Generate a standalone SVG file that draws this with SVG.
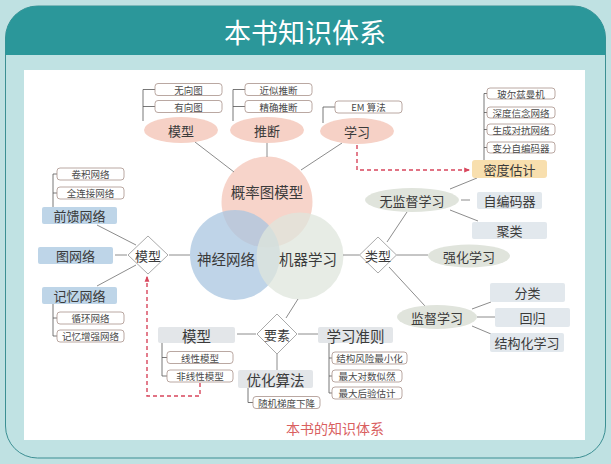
<svg xmlns="http://www.w3.org/2000/svg" width="611" height="464" viewBox="0 0 611 464">
<defs>
<style>
text{font-family:"Noto Sans CJK SC","Noto Sans",sans-serif;fill:#3a3a3a;text-anchor:middle;dominant-baseline:central}
.sb{fill:#fff;stroke:#a8928a;stroke-width:0.8}
.st{font-size:9.5px;fill:#4a4a4a}
.ln{stroke:#6f6f6f;stroke-width:0.8;fill:none}
.br{stroke:#555;stroke-width:0.8;fill:none}
.pk{fill:#f6d1c6}
.gg{fill:#e0e4dc}
.bl{fill:#bed5e8}
.gy{fill:#e3e6e9}
.gb{fill:#e2e8ed}
.dm{fill:#fff;stroke:#a0a0a0;stroke-width:0.9}
.m{font-size:13px}
.l{font-size:14.5px}
.rd{stroke:#d8465c;stroke-width:1.4;stroke-dasharray:4 3;fill:none}
</style>
<marker id="ar" viewBox="0 0 10 10" refX="8" refY="5" markerWidth="6" markerHeight="6" orient="auto" markerUnits="userSpaceOnUse">
<path d="M0,1 L10,5 L0,9 Z" fill="#d8465c"/>
</marker>
</defs>
<rect x="0" y="0" width="611" height="464" fill="#bfe1e2"/>
<rect x="5.5" y="6" width="600" height="452" rx="32" fill="#c0e2e3" stroke="#3c8f93" stroke-width="1"/>
<path d="M5.5,55 V38 A32,32 0 0 1 37.5,6 H573.5 A32,32 0 0 1 605.5,38 V55 Z" fill="#2b979a"/>
<text x="305" y="31" style="font-size:27px;fill:#fff">本书知识体系</text>
<rect x="24" y="70" width="561" height="370" fill="#fff"/>

<g id="venn">
<circle id="c-pgm" cx="267" cy="202" r="45.5" fill="#f3c2b4" fill-opacity="0.7"/>
<circle id="c-nn" cx="235" cy="255" r="45" fill="#a9c5e0" fill-opacity="0.75"/>
<circle id="c-ml" cx="300" cy="256" r="43.5" fill="#dfe5dc" fill-opacity="0.75"/>
<text x="267" y="191" class="l">概率图模型</text>
<text x="226" y="258" class="l">神经网络</text>
<text x="308" y="258" class="l">机器学习</text>
</g>

<g id="connectors">
<path class="ln" d="M195,142 L234,172"/>
<path class="ln" d="M267,143 L267,157"/>
<path class="ln" d="M342,143 L301,170"/>
<path class="br" d="M143,121 V89.5 H155 M143,106.5 H155"/>
<path class="br" d="M233,121 V89.5 H245 M233,106.5 H245"/>
<path class="br" d="M323,123 V107 H335"/>
<path class="br" d="M484,160 V93.5 H487 M484,112.5 H487 M484,129.5 H487 M484,147.5 H487"/>
<path class="ln" d="M450,189 L477,178"/>
<path class="ln" d="M461,200 L470,200"/>
<path class="ln" d="M450,210 L478,221"/>
<path class="ln" d="M343,255 L359.5,255"/>
<path class="ln" d="M387,242 L407,212"/>
<path class="ln" d="M396.5,255 L428,255"/>
<path class="ln" d="M389,267 L425,306"/>
<path class="ln" d="M472,309 L491,302"/>
<path class="ln" d="M477,317 L495,317"/>
<path class="ln" d="M472,326 L491,334"/>
<path class="br" d="M53,207 V174 H57 M53,193 H57"/>
<path class="br" d="M53,303 V336 H57 M53,318 H57"/>
<path class="ln" d="M97,225 L136,245"/>
<path class="ln" d="M115,255 L127,255"/>
<path class="ln" d="M169,255 L190,255"/>
<path class="ln" d="M97,286 L136,265"/>
<path class="br" d="M162,343 V376 H167 M162,357.5 H167"/>
<path class="ln" d="M237,334 L256,334"/>
<path class="ln" d="M286,318 L298,299"/>
<path class="ln" d="M298,334 L318,334"/>
<path class="ln" d="M277,354 L277,370"/>
<path class="br" d="M248,388 V402.5 H253"/>
<path class="br" d="M329,343 V393 H332 M329,358 H332 M329,376 H332"/>
<path class="rd" d="M357,145 V170 H469" marker-end="url(#ar)"/>
<path class="rd" d="M200,383 V396 H147 V277" marker-end="url(#ar)"/>
</g>

<g id="n-wuxiangtu"><rect class="sb" x="155" y="83.5" width="67" height="12" rx="3"/><text class="st" x="188.5" y="89.5">无向图</text></g>
<g id="n-youxiangtu"><rect class="sb" x="155" y="100.5" width="67" height="12" rx="3"/><text class="st" x="188.5" y="106.5">有向图</text></g>
<g id="n-moxing-top"><ellipse class="pk" cx="181" cy="130" rx="37" ry="13"/><text class="m" x="181" y="130">模型</text></g>
<g id="n-jinsi"><rect class="sb" x="245" y="83.5" width="67" height="12" rx="3"/><text class="st" x="278.5" y="89.5">近似推断</text></g>
<g id="n-jingque"><rect class="sb" x="245" y="100.5" width="67" height="12" rx="3"/><text class="st" x="278.5" y="106.5">精确推断</text></g>
<g id="n-tuiduan"><ellipse class="pk" cx="267" cy="130" rx="37" ry="13"/><text class="m" x="267" y="130">推断</text></g>
<g id="n-em"><rect class="sb" x="335" y="101" width="67" height="12" rx="3"/><text class="st" x="368.5" y="107">EM 算法</text></g>
<g id="n-xuexi"><ellipse class="pk" cx="357" cy="131" rx="37" ry="13"/><text class="m" x="357" y="131">学习</text></g>

<g id="n-boltz"><rect class="sb" x="487" y="88" width="68" height="11" rx="3"/><text class="st" x="521" y="93.5">玻尔兹曼机</text></g>
<g id="n-dbn"><rect class="sb" x="487" y="107" width="68" height="11" rx="3"/><text class="st" x="521" y="112.5">深度信念网络</text></g>
<g id="n-gan"><rect class="sb" x="487" y="124" width="68" height="11" rx="3"/><text class="st" x="521" y="129.5">生成对抗网络</text></g>
<g id="n-vae"><rect class="sb" x="487" y="142" width="68" height="11" rx="3"/><text class="st" x="521" y="147.5">变分自编码器</text></g>
<g id="n-midu"><rect x="472" y="160" width="75" height="18" rx="3" fill="#f8dfae"/><text class="m" x="509.5" y="169">密度估计</text></g>

<g id="n-wujiandu"><ellipse class="gg" cx="412" cy="200" rx="47" ry="12"/><text class="m" x="412" y="200">无监督学习</text></g>
<g id="n-zibianma"><rect class="gb" x="477" y="192" width="65" height="17" rx="2"/><text class="m" x="509.5" y="200.5">自编码器</text></g>
<g id="n-julei"><rect class="gb" x="472" y="222" width="75" height="17" rx="2"/><text class="m" x="509.5" y="230.5">聚类</text></g>
<g id="n-leixing"><path class="dm" d="M378,237 L396.5,255 L378,273 L359.5,255 Z"/><text class="m" x="378" y="255">类型</text></g>
<g id="n-qianghua"><ellipse class="gg" cx="469" cy="256" rx="41" ry="11.5"/><text class="m" x="469" y="256">强化学习</text></g>
<g id="n-jiandu"><ellipse class="gg" cx="437" cy="317" rx="40" ry="12"/><text class="m" x="437" y="317">监督学习</text></g>
<g id="n-fenlei"><rect class="gb" x="490" y="283" width="75" height="19" rx="2"/><text class="m" x="527.5" y="292.5">分类</text></g>
<g id="n-huigui"><rect class="gb" x="495" y="308" width="75" height="19" rx="2"/><text class="m" x="532.5" y="317.5">回归</text></g>
<g id="n-jiegouhua"><rect class="gb" x="490" y="333" width="74" height="19" rx="2"/><text class="m" x="527" y="342.5">结构化学习</text></g>

<g id="n-juanji"><rect class="sb" x="57" y="168" width="67" height="12" rx="3"/><text class="st" x="90.5" y="174">卷积网络</text></g>
<g id="n-quanlianjie"><rect class="sb" x="57" y="187" width="67" height="12" rx="3"/><text class="st" x="90.5" y="193">全连接网络</text></g>
<g id="n-qiankui"><rect class="bl" x="42" y="207" width="75" height="17" rx="2"/><text class="m" x="79.5" y="215.5">前馈网络</text></g>
<g id="n-tuwangluo"><rect class="bl" x="38" y="247" width="75" height="17" rx="2"/><text class="m" x="75.5" y="255.5">图网络</text></g>
<g id="n-jiyi"><rect class="bl" x="42" y="287" width="75" height="17" rx="2"/><text class="m" x="79.5" y="295.5">记忆网络</text></g>
<g id="n-xunhuan"><rect class="sb" x="57" y="312" width="67" height="12" rx="3"/><text class="st" x="90.5" y="318">循环网络</text></g>
<g id="n-jiyizengqiang"><rect class="sb" x="57" y="330" width="67" height="12" rx="3"/><text class="st" x="90.5" y="336">记忆增强网络</text></g>
<g id="n-moxing-dm"><path class="dm" d="M148,236 L168,255 L148,274 L128,255 Z"/><text class="m" x="148" y="255">模型</text></g>

<g id="n-moxing-b"><rect class="gy" x="158" y="327" width="77" height="16" rx="2"/><text class="l" x="196.5" y="335">模型</text></g>
<g id="n-xianxing"><rect class="sb" x="167" y="351.5" width="66" height="12" rx="3"/><text class="st" x="200" y="357.5">线性模型</text></g>
<g id="n-feixianxing"><rect class="sb" x="167" y="370" width="66" height="12" rx="3"/><text class="st" x="200" y="376">非线性模型</text></g>
<g id="n-yaosu"><path class="dm" d="M277,314 L297,334 L277,354 L257,334 Z"/><text class="m" x="277" y="334">要素</text></g>
<g id="n-zhunze"><rect class="gy" x="318" y="327" width="75" height="16" rx="2"/><text class="l" x="355.5" y="335">学习准则</text></g>
<g id="n-youhua"><rect class="gy" x="238" y="370" width="75" height="18" rx="2"/><text class="l" x="275.5" y="379">优化算法</text></g>
<g id="n-sgd"><rect class="sb" x="253" y="396.5" width="67" height="12" rx="3"/><text class="st" x="286.5" y="402.5">随机梯度下降</text></g>
<g id="n-jiegoufx"><rect class="sb" x="332" y="352" width="75" height="12" rx="3"/><text class="st" x="369.5" y="358">结构风险最小化</text></g>
<g id="n-duishu"><rect class="sb" x="332" y="370" width="70" height="12" rx="3"/><text class="st" x="367" y="376">最大对数似然</text></g>
<g id="n-houyan"><rect class="sb" x="332" y="387" width="70" height="12" rx="3"/><text class="st" x="367" y="393">最大后验估计</text></g>

<text x="335" y="428" style="font-size:14px;fill:#d9605f">本书的知识体系</text>
</svg>
